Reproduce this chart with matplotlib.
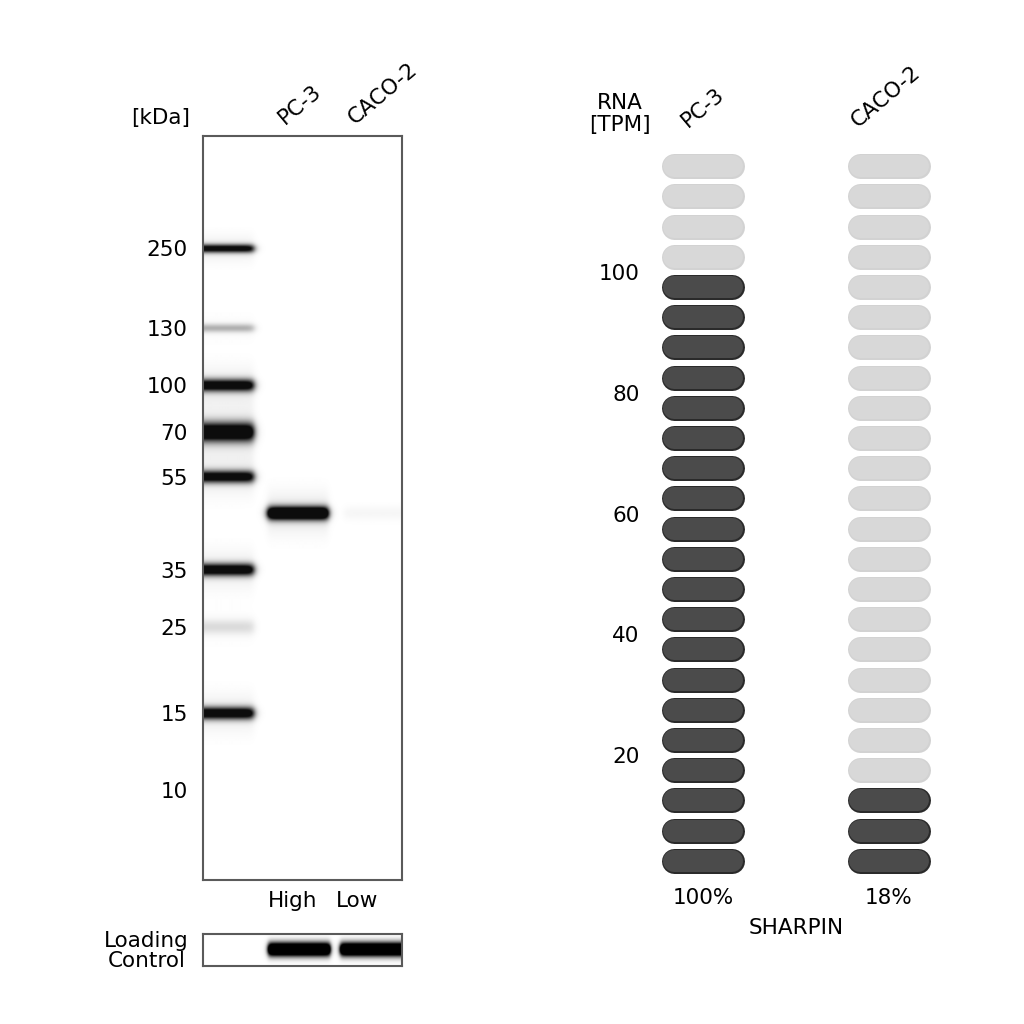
"""
SHARPIN: western blot + RNA expression (PC-3 vs CACO-2)
"""

import numpy as np
import matplotlib
matplotlib.use('Agg')
import matplotlib.pyplot as plt
import matplotlib.transforms as mtransforms

plt.rcParams['font.family'] = ['DejaVu Sans']
FS = 15.5

# ==================== data ====================
# ladder (marker) bands: label, relative migration (0 = top of gel), darkness
ladder_kda = ['250', '130', '100', '70', '55', '35', '25', '15', '10']
ladder_migration = [0.151, 0.258, 0.335, 0.398, 0.458, 0.583, 0.660, 0.776, 0.879]
ladder_intensity = [0.80, 0.22, 0.88, 1.00, 0.85, 0.90, 0.10, 0.90, 0.0]
ladder_width = [0.0040, 0.0040, 0.0058, 0.0090, 0.0058, 0.0058, 0.0070, 0.0058, 0.005]

# sample lanes
lanes = ['PC-3', 'CACO-2']
lane_level = ['High', 'Low']
sample_migration = [0.507, 0.507]
sample_intensity = [1.7, 0.035]
loading_intensity = [1.9, 1.9]

# RNA
rna_cells = ['PC-3', 'CACO-2']
rna_tpm = [100, 18]
rna_percent = ['100%', '18%']
rna_ticks = [20, 40, 60, 80, 100]
gene = 'SHARPIN'

# ==================== helpers ====================
W = H = 1024


def fx(px):
    return px / W


def fy(py):
    return 1 - py / H


def px2pt(p):
    return p * 72 / 100


lane_span = [(0.325, 0.63), (0.71, 1.08)]
ladder_span = (-0.05, 0.255)

fig = plt.figure(figsize=(10.24, 10.24), dpi=100)
fig.patch.set_facecolor('white')

# ==================== western blot ====================
ax = fig.add_axes([fx(203), fy(880), fx(402 - 203), (880 - 136) / H])

nx, ny = 400, 1488
xs = np.linspace(0, 1, nx)
ys = np.linspace(0, 1, ny)


def xprof(x0, x1, s=0.012):
    return 0.5 * (np.tanh((xs - x0) / s) - np.tanh((xs - x1) / s))


def yprof(m, sig):
    # sharp core plus a soft halo
    core = np.exp(-0.5 * ((ys - m) / sig) ** 2)
    halo = 0.06 * np.exp(-0.5 * ((ys - m) / (sig * 3)) ** 2)
    return core + halo


img = np.zeros((ny, nx))
for m, inten, sig in zip(ladder_migration, ladder_intensity, ladder_width):
    img += 1.4 * inten * np.outer(yprof(m, sig), xprof(*ladder_span, s=0.02))
for (x0, x1), m, inten in zip(lane_span, sample_migration, sample_intensity):
    img += inten * np.outer(yprof(m, 0.0062), xprof(x0, x1, 0.018))
img = np.clip(img, 0, 1)

ax.imshow(img, cmap='gray_r', vmin=0, vmax=1.05, extent=[0, 1, 1, 0],
          aspect='auto', interpolation='bilinear')
ax.set_xlim(0, 1)
ax.set_ylim(1, 0)
ax.set_yticks(ladder_migration, ladder_kda)
ax.set_xticks([0.452, 0.774], lane_level)
ax.tick_params(length=0, labelsize=FS)
ax.tick_params(axis='y', pad=11)
ax.tick_params(axis='x', pad=8)
for sp in ax.spines.values():
    sp.set_color('#5a5a5a')
    sp.set_linewidth(1.5)

trans = mtransforms.blended_transform_factory(ax.transData, ax.transAxes)
for name, xpos in zip(lanes, [0.41, 0.765]):
    ax.text(xpos, 1.015, name, rotation=40, rotation_mode='anchor',
            ha='left', va='baseline', fontsize=FS, transform=trans)

fig.text(fx(190), fy(118), '[kDa]', ha='right', va='center', fontsize=FS)

# loading control
axl = fig.add_axes([fx(203), fy(966), fx(402 - 203), (966 - 934) / H])
ys2 = np.linspace(0, 1, 64)
img2 = np.zeros((64, nx))
for (x0, x1), inten in zip([(0.327, 0.64), (0.69, 1.05)], loading_intensity):
    img2 += inten * np.outer(np.exp(-0.5 * ((ys2 - 0.48) / 0.15) ** 2), xprof(x0, x1, 0.012))
img2 = np.clip(img2, 0, 1)
axl.imshow(img2, cmap='gray_r', vmin=0, vmax=1.0, extent=[0, 1, 1, 0],
           aspect='auto', interpolation='bilinear')
axl.set_xticks([])
axl.set_yticks([])
for sp in axl.spines.values():
    sp.set_color('#5a5a5a')
    sp.set_linewidth(1.5)
fig.text(fx(189), fy(951), 'Loading\nControl', ha='right', va='center',
         fontsize=FS, linespacing=1.0, multialignment='center')

# ==================== RNA ====================
axr = fig.add_axes([fx(655), fy(876), fx(282), 725 / H])
axr.set_xlim(-0.258, 1.258)
axr.set_ylim(0, 120)

step = 5
half = 29 / 186
for j, tpm in enumerate(rna_tpm):
    n_on = int(tpm // step)
    for i in range(120 // step):
        yc = step * i + step / 2
        if i < n_on:
            edge, fill = '#2a2a2a', '#4b4b4b'
        else:
            edge, fill = '#d2d2d2', '#d8d8d8'
        axr.plot([j - half, j + half], [yc, yc], color=edge, lw=px2pt(25),
                 solid_capstyle='round')
        axr.plot([j - half, j + half], [yc, yc], color=fill, lw=px2pt(22),
                 solid_capstyle='round')

axr.set_yticks(rna_ticks, [str(t) for t in rna_ticks])
axr.set_xticks([0, 1], rna_percent)
axr.tick_params(length=0, labelsize=FS)
axr.tick_params(axis='y', pad=11)
axr.tick_params(axis='x', pad=9)
axr.set_xlabel(gene, fontsize=FS, labelpad=7)
for sp in axr.spines.values():
    sp.set_visible(False)

transr = mtransforms.blended_transform_factory(axr.transData, axr.transAxes)
for name, xpos in zip(rna_cells, [-0.08, 0.83]):
    axr.text(xpos, 1.032, name, rotation=40, rotation_mode='anchor',
             ha='left', va='baseline', fontsize=FS, transform=transr)

fig.text(fx(620), fy(114), 'RNA\n[TPM]', ha='center', va='center',
         fontsize=FS, linespacing=1.1)

plt.savefig('out.png', dpi=100)
